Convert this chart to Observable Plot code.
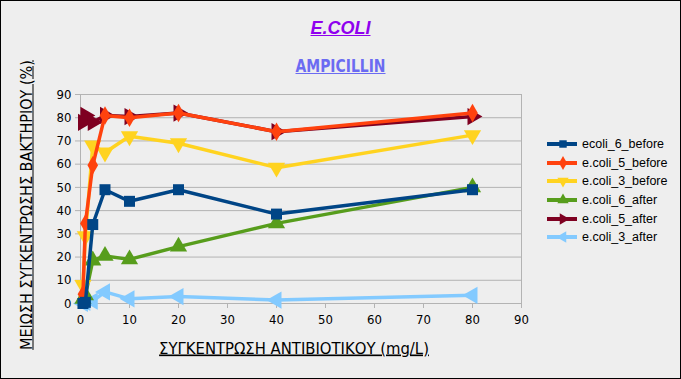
<!DOCTYPE html>
<html>
<head>
<meta charset="utf-8">
<script src="https://cdn.jsdelivr.net/npm/d3@7"></script>
<script src="https://cdn.jsdelivr.net/npm/@observablehq/plot@0.6"></script>
<style>
  html, body { margin: 0; padding: 0; background: #fff; }
  #chart {
    position: relative; width: 681px; height: 379px; box-sizing: border-box;
    border: 1px solid #000; background: #eeeeee; display: flex; overflow: hidden;
    font-family: "Liberation Sans", Arial, sans-serif;
  }
  #ycol { width: 46px; flex: none; position: relative; }
  #ylabel {
    position: absolute; left: 25px; top: 204px; white-space: nowrap;
    transform: translate(-50%, -50%) rotate(-90deg);
    font-family: "Liberation Sans Narrow", "DejaVu Sans Condensed", sans-serif;
    font-size: 16px; color: #000; text-decoration: underline;
  }
  #main { flex: none; width: 633px; display: flex; flex-direction: column; }
  #titlespace { height: 79px; flex: none; }
  #title {
    position: absolute; left: 0; width: 100%; top: 17px; text-align: center;
    font-weight: bold; font-style: italic; font-size: 18px; color: #8f00ee;
    text-decoration: underline;
  }
  #subtitle {
    position: absolute; left: 0; width: 100%; top: 54px; text-align: center;
    font-family: "Liberation Sans Narrow", "DejaVu Sans Condensed", sans-serif;
    font-weight: bold; font-size: 18px; color: #6b6bf2; text-decoration: underline;
    transform: scaleX(0.86);
  }
  #row { display: flex; }
  #legend { width: 133px; flex: none; padding-top: 55px; box-sizing: border-box; }
  .lrow { height: 18.6px; display: flex; align-items: center; font-size: 12.5px; color: #000; }
  .lrow svg { flex: none; margin-right: 3px; }
  g[aria-label="x-axis label"] text { text-decoration: underline; font-size: 16.5px; }
</style>
</head>
<body>
<div id="chart">
  <div id="title">E.COLI</div>
  <div id="subtitle">AMPICILLIN</div>
  <div id="ycol"><div id="ylabel">ΜΕΙΩΣΗ ΣΥΓΚΕΝΤΡΩΣΗΣ ΒΑΚΤΗΡΙΟΥ (%)</div></div>
  <div id="main">
    <div id="titlespace"></div>
    <div id="row">
      <div id="plot"></div>
      <div id="legend"></div>
    </div>
  </div>
</div>
<script>
// ---- data ----
const concentrations = [0.5, 1, 2.5, 5, 10, 20, 40, 80];
const seriesNames = ["ecoli_6_before", "e.coli_5_before", "e.coli_3_before", "e.coli_6_after", "e.coli_5_after", "e.coli_3_after"];
const ecoli_6_before  = [0, 0.5, 34, 49, 44, 49, 38.5, 49];
const ecoli_5_before  = [4, 34.5, 59.5, 81, 80, 82, 74, 82];
const ecoli_3_before  = [8, 29, 68, 65, 72, 69, 58.5, 72.5];
const ecoli_6_after   = [2, 3.5, 18.5, 20.5, 19, 24.5, 34.5, 50];
const ecoli_5_after   = [78, 81, 78, 81, 80.5, 82, 74, 80.5];
const ecoli_3_after   = [0, 0.5, 1, 5, 2, 3, 1.5, 3.5];
const xTicks = [0, 10, 20, 30, 40, 50, 60, 70, 80, 90];
const yTicks = [0, 10, 20, 30, 40, 50, 60, 70, 80, 90];
const xLabel = "ΣΥΓΚΕΝΤΡΩΣΗ ΑΝΤΙΒΙΟΤΙΚΟΥ (mg/L)";

const seriesValues = [ecoli_6_before, ecoli_5_before, ecoli_3_before, ecoli_6_after, ecoli_5_after, ecoli_3_after];
const colors = ["#004586", "#ff420e", "#ffd320", "#579d1c", "#7e0021", "#83caff"];

// custom triangle symbols with rotation
function tri(angle) {
  const c = Math.cos(angle), s = Math.sin(angle);
  return {
    draw(ctx, size) {
      const y = -Math.sqrt(size / (Math.sqrt(3) * 3));
      const pts = [[0, y * 2], [-Math.sqrt(3) * y, -y], [Math.sqrt(3) * y, -y]];
      pts.forEach(([px, py], i) => {
        const rx = px * c - py * s, ry = px * s + py * c;
        if (i === 0) ctx.moveTo(rx, ry); else ctx.lineTo(rx, ry);
      });
      ctx.closePath();
    }
  };
}
const symbols = [d3.symbolSquare, d3.symbolDiamond, tri(Math.PI), tri(0), tri(Math.PI / 2), tri(-Math.PI / 2)];
const radii = [6.2, 5.6, 6.4, 6.4, 6.4, 6.4];

const table = [];
seriesNames.forEach((name, i) => {
  concentrations.forEach((c, j) => table.push({series: name, idx: i, x: c, y: seriesValues[i][j]}));
});

const marks = [
  Plot.gridY(yTicks, {stroke: "#b3b3b3", strokeOpacity: 1}),
  Plot.frame({stroke: "#b3b3b3"}),
  Plot.axisY(yTicks, {tickSize: 5, tickPadding: 4, stroke: "#b3b3b3", fill: "#000", label: null}),
  Plot.axisX(xTicks, {tickSize: 5, tickPadding: 6, stroke: "#b3b3b3", fill: "#000",
    label: xLabel, labelAnchor: "center", labelArrow: "none", labelOffset: 50})
];
// draw last series first so the first series ends on top
for (let i = seriesNames.length - 1; i >= 0; i--) {
  const d = table.filter(r => r.idx === i);
  marks.push(Plot.line(d, {x: "x", y: "y", stroke: colors[i], strokeWidth: 3.5, strokeLinejoin: "miter"}));
  marks.push(Plot.dot(d, {x: "x", y: "y", fill: colors[i], stroke: "none", symbol: symbols[i], r: radii[i]}));
}

const chart = Plot.plot({
  width: 500, height: 298,
  marginLeft: 33, marginRight: 26, marginTop: 14, marginBottom: 75,
  style: {background: "transparent", fontFamily: '"Liberation Sans Narrow", "DejaVu Sans Condensed", sans-serif', fontSize: "13px", color: "#000", overflow: "visible"},
  x: {domain: [0, 90]},
  y: {domain: [0, 90]},
  marks
});
d3.select(chart).selectAll('g[aria-label="x-axis label"] text').attr("dx", -7);
document.getElementById("plot").appendChild(chart);

// legend
const legend = d3.select("#legend");
seriesNames.forEach((name, i) => {
  const row = legend.append("div").attr("class", "lrow");
  const svg = row.append("svg").attr("width", 32).attr("height", 14);
  svg.append("line").attr("x1", 0).attr("x2", 30).attr("y1", 7).attr("y2", 7)
    .attr("stroke", colors[i]).attr("stroke-width", 4);
  svg.append("path").attr("transform", "translate(16,7)")
    .attr("d", d3.symbol(symbols[i], Math.PI * 4.2 * 4.2)()).attr("fill", colors[i]);
  row.append("span").text(name);
});
</script>
</body>
</html>
